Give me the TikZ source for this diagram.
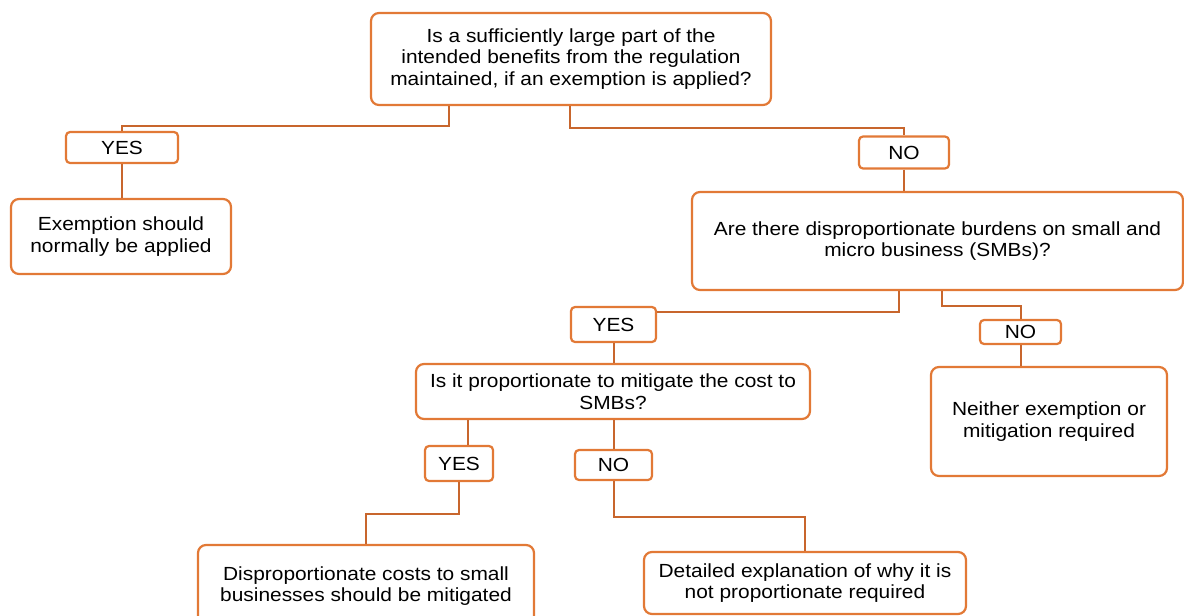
\documentclass[tikz,border=0pt]{standalone}
\usepackage{fontspec}
\setmainfont{Liberation Sans}[FakeStretch=1.1]
\usetikzlibrary{positioning,calc}
\definecolor{boxcolor}{RGB}{226,121,54}
\definecolor{linecolor}{RGB}{200,102,45}

\begin{document}
\begin{tikzpicture}[x=1pt, y=-1pt,
    box/.style={draw=boxcolor, line width=2.2pt, rounded corners=8pt, fill=white,
                align=center, inner sep=0pt, font=\fontsize{19}{21.5}\selectfont},
    answer/.style={box, rounded corners=4pt},
    link/.style={draw=linecolor, line width=2pt}]

    \useasboundingbox (0,0) rectangle (1184,616);

    % Questions
    \node[box, minimum width=400pt, minimum height=92pt] (q1) at (571,59)
        {Is a sufficiently large part of the\\intended benefits from the regulation\\maintained, if an exemption is applied?};
    \node[box, minimum width=491pt, minimum height=98pt] (q2) at (937.5,241)
        {Are there disproportionate burdens on small and\\micro business (SMBs)?};
    \node[box, minimum width=394pt, minimum height=55pt] (q3) at (613,391.5)
        {Is it proportionate to mitigate the cost to\\SMBs?};

    % Answers
    \node[answer, minimum width=112pt, minimum height=31pt] (yes1) at (122,147.5) {YES};
    \node[answer, minimum width=90pt, minimum height=32pt] (no1) at (904,152.5) {NO};
    \node[answer, minimum width=85pt, minimum height=35pt] (yes2) at (613.5,324.5) {YES};
    \node[answer, minimum width=81pt, minimum height=24pt] (no2) at (1020.5,332) {NO};
    \node[answer, minimum width=68pt, minimum height=35pt] (yes3) at (459,463.5) {YES};
    \node[answer, minimum width=77pt, minimum height=30pt] (no3) at (613.5,465) {NO};

    % Outcomes
    \node[box, minimum width=220pt, minimum height=75pt] (e1) at (121,236.5)
        {Exemption should\\normally be applied};
    \node[box, minimum width=236pt, minimum height=109pt] (n1) at (1049,421.5)
        {Neither exemption or\\mitigation required};
    \node[box, minimum width=336pt, minimum height=82pt] (disp) at (366,586)
        {Disproportionate costs to small\\businesses should be mitigated};
    \node[box, minimum width=322pt, minimum height=62pt] (det) at (805,583)
        {Detailed explanation of why it is\\not proportionate required};

    % Connections
    \draw[link] ([xshift=-122pt]q1.south) -- ++(0,20) -| (yes1.north);
    \draw[link] (yes1.south) -- (yes1.south |- e1.north);
    \draw[link] ([xshift=-1pt]q1.south) -- ++(0,22) -| (no1.north);
    \draw[link] (no1.south) -- (no1.south |- q2.north);
    \draw[link] ([xshift=-38.5pt]q2.south) |- ([yshift=12.5pt]yes2.east);
    \draw[link] (yes2.south) -- (yes2.south |- q3.north);
    \draw[link] ([xshift=4.5pt]q2.south) -- ++(0,15) -| (no2.north);
    \draw[link] (no2.south) -- (no2.south |- n1.north);
    \draw[link] ([xshift=9pt]yes3.north) -- ([xshift=9pt]yes3.north |- q3.south);
    \draw[link] (yes3.south) -- ++(0,32) -| (disp.north);
    \draw[link] (no3.north) -- (no3.north |- q3.south);
    \draw[link] (no3.south) -- ++(0,36) -| (det.north);

\end{tikzpicture}
\end{document}
